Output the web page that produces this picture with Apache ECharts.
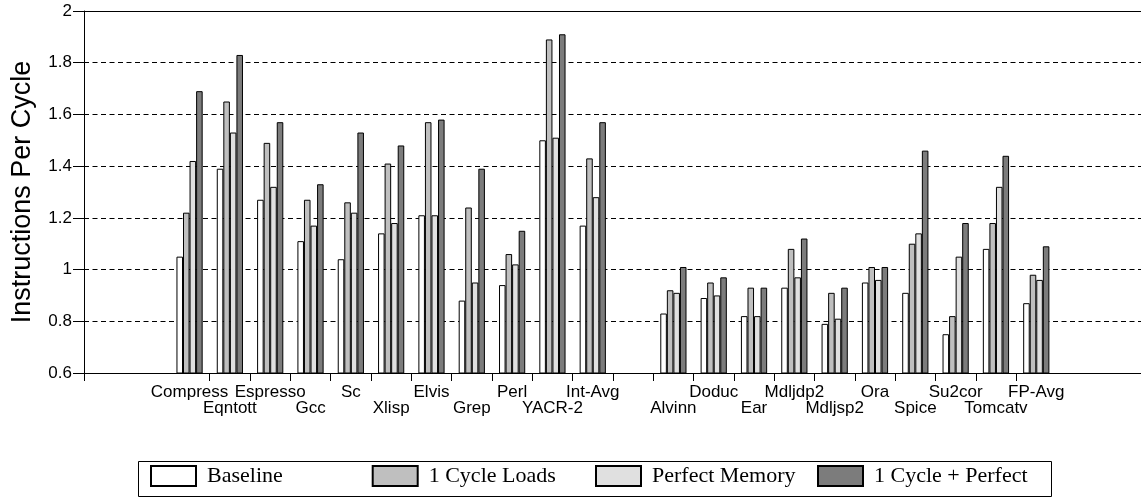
<!DOCTYPE html>
<html>
<head>
<meta charset="utf-8">
<script src="https://cdn.jsdelivr.net/npm/echarts@6/dist/echarts.min.js"></script>
<style>
  html, body { margin: 0; padding: 0; background: #fff; }
  #chart { width: 1141px; height: 497px; }
</style>
</head>
<body>
<div id="chart"></div>
<script>
// Benchmarks (the empty slot separates the integer and floating-point groups)
const categories = ['Compress', 'Eqntott', 'Espresso', 'Gcc', 'Sc', 'Xlisp', 'Elvis', 'Grep', 'Perl', 'YACR-2', 'Int-Avg', '',
  'Alvinn', 'Doduc', 'Ear', 'Mdljdp2', 'Mdljsp2', 'Ora', 'Spice', 'Su2cor', 'Tomcatv', 'FP-Avg'];

// Instructions per cycle for each configuration
const baseline      = [1.05, 1.39, 1.27, 1.11, 1.04, 1.14, 1.21, 0.88, 0.94, 1.50, 1.17, null,
  0.83, 0.89, 0.82, 0.93, 0.79, 0.95, 0.91, 0.75, 1.08, 0.87];
const oneCycleLoads = [1.22, 1.65, 1.49, 1.27, 1.26, 1.41, 1.57, 1.24, 1.06, 1.89, 1.43, null,
  0.92, 0.95, 0.93, 1.08, 0.91, 1.01, 1.10, 0.82, 1.18, 0.98];
const perfectMemory = [1.42, 1.53, 1.32, 1.17, 1.22, 1.18, 1.21, 0.95, 1.02, 1.51, 1.28, null,
  0.91, 0.90, 0.82, 0.97, 0.81, 0.96, 1.14, 1.05, 1.32, 0.96];
const cyclePlusPerfect = [1.69, 1.83, 1.57, 1.33, 1.53, 1.48, 1.58, 1.39, 1.15, 1.91, 1.57, null,
  1.01, 0.97, 0.93, 1.12, 0.93, 1.01, 1.46, 1.18, 1.44, 1.09];

const seriesNames = ['Baseline', '1 Cycle Loads', 'Perfect Memory', '1 Cycle + Perfect'];
const seriesValues = [baseline, oneCycleLoads, perfectMemory, cyclePlusPerfect];
const seriesColors = ['#ffffff', '#bfbfbf', '#e0e0e0', '#7c7c7c'];

// Y axis range and step
const yMin = 0.6, yMax = 2, yStep = 0.2;

const SANS = 'Liberation Sans, Arial, Helvetica, sans-serif';
const SERIF = 'Liberation Serif, Times New Roman, serif';

// Alternate benchmark names between two label rows
let labelCount = 0;
const labelRow = categories.map(c => (c ? (labelCount++ % 2) : 0));

const gridTop = 11, gridBottom = 124;
const slotLeft = 169.4, slotWidth = 40.32;

const hiddenY = (gridIndex) => ({
  type: 'value', gridIndex, min: yMin, max: yMax, interval: yStep, show: false
});

const chart = echarts.init(document.getElementById('chart'), null, { renderer: 'canvas' });

chart.setOption({
  animation: false,
  backgroundColor: '#fff',
  grid: [
    // frame: y axis, baseline and top line
    { left: 84, right: -2, top: gridTop, bottom: gridBottom },
    // benchmark slots
    { left: slotLeft, width: slotWidth * categories.length, top: gridTop, bottom: gridBottom },
    // separators between adjacent benchmarks
    { left: slotLeft + slotWidth, width: slotWidth * (categories.length - 2), top: gridTop, bottom: gridBottom }
  ],
  xAxis: [
    {
      type: 'category', gridIndex: 0, data: [''], position: 'bottom',
      axisLine: { lineStyle: { color: '#000', width: 1 } },
      axisTick: { show: true, length: 8, lineStyle: { color: '#000' } },
      axisLabel: { show: false }, splitLine: { show: false }
    },
    {
      type: 'category', gridIndex: 0, data: [''], position: 'top',
      axisLine: { lineStyle: { color: '#000', width: 1 } },
      axisTick: { show: false }, axisLabel: { show: false }, splitLine: { show: false }
    },
    {
      type: 'category', gridIndex: 1, data: categories, position: 'bottom',
      axisLine: { show: false }, axisTick: { show: false }, splitLine: { show: false },
      axisLabel: {
        interval: 0, margin: 11, color: '#000', fontFamily: SANS, fontSize: 17, lineHeight: 16,
        formatter: (v, i) => (labelRow[i] ? '\n' + v : v)
      }
    },
    {
      type: 'category', gridIndex: 2, data: categories.slice(1, categories.length - 1), position: 'bottom',
      axisLine: { show: false }, axisLabel: { show: false }, splitLine: { show: false },
      axisTick: { show: true, length: 8, interval: 0, lineStyle: { color: '#000' } }
    }
  ],
  yAxis: [
    {
      type: 'value', gridIndex: 0, min: yMin, max: yMax, interval: yStep,
      name: 'Instructions Per Cycle', nameLocation: 'middle', nameRotate: 90, nameGap: 61,
      nameTextStyle: { fontFamily: SANS, fontSize: 27, color: '#000', verticalAlign: 'middle' },
      axisLine: { show: true, lineStyle: { color: '#000', width: 1 } },
      axisTick: { show: true, length: 11, lineStyle: { color: '#000' } },
      axisLabel: {
        margin: 12, color: '#000', fontFamily: SANS, fontSize: 17,
        formatter: v => String(Math.round(v * 10) / 10)
      },
      splitLine: { show: true, lineStyle: { color: '#000', width: 1, type: [5, 3.5] } }
    },
    hiddenY(1),
    hiddenY(2)
  ],
  legend: seriesNames.map((name, i) => ({
    data: [name],
    left: [150, 371.7, 595, 817][i],
    top: 465,
    padding: 0,
    icon: 'rect',
    itemWidth: 45,
    itemHeight: 20,
    selectedMode: false,
    textStyle: { fontFamily: SERIF, fontSize: 22, color: '#000', padding: [0, 0, 0, 6] }
  })),
  graphic: [
    {
      type: 'rect',
      shape: { x: 138.5, y: 461.5, width: 913, height: 35 },
      style: { fill: 'none', stroke: '#000', lineWidth: 1 },
      silent: true
    }
  ],
  series: seriesNames.map((name, i) => ({
    name,
    type: 'bar',
    xAxisIndex: 2,
    yAxisIndex: 1,
    data: seriesValues[i],
    barGap: '0%',
    barCategoryGap: '35%',
    itemStyle: { color: seriesColors[i], borderColor: '#000', borderWidth: 1 },
    emphasis: { disabled: true }
  }))
});
</script>
</body>
</html>
